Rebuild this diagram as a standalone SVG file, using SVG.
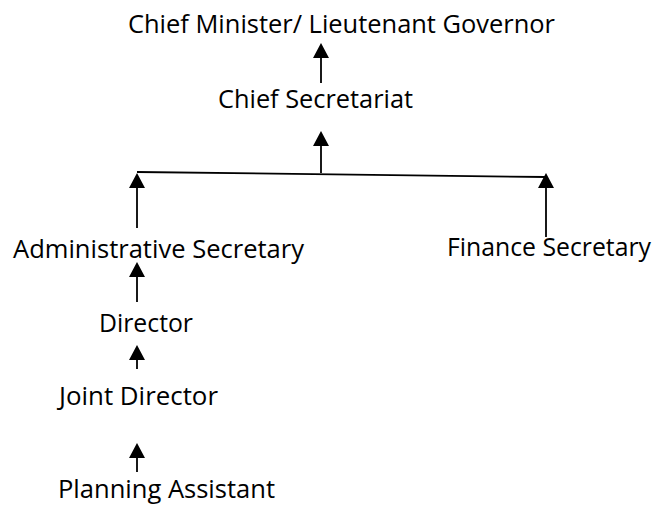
<svg xmlns="http://www.w3.org/2000/svg" width="659" height="506" viewBox="0 0 659 506">
<defs>
<marker id="ah" markerUnits="userSpaceOnUse" markerWidth="16" markerHeight="17" viewBox="0 -8.5 15 17" refX="0" refY="0" orient="auto">
<path d="M0,-8 L15,0 L0,8 Z" fill="#000"/>
</marker>
<style>
text{font-family:"Open Sans","Liberation Sans",sans-serif;font-size:25px;fill:#000}
.c{stroke:#000;stroke-width:1.8;fill:none}
.a{marker-end:url(#ah)}
</style>
</defs>
<rect width="659" height="506" fill="#fff"/>
<g id="connectors">
<line class="c a" x1="321" y1="83" x2="321" y2="58"/>
<line class="c a" x1="321" y1="173" x2="321" y2="146"/>
<line class="c" x1="137" y1="172" x2="546" y2="177"/>
<line class="c a" x1="137" y1="228" x2="137" y2="188"/>
<line class="c a" x1="546" y1="237" x2="546" y2="188"/>
<line class="c a" x1="137" y1="302" x2="137" y2="277"/>
<line class="c a" x1="137" y1="369" x2="137" y2="360"/>
<line class="c a" x1="137" y1="472" x2="137" y2="458"/>
</g>
<g id="chief-minister"><text x="128" y="33" textLength="427" lengthAdjust="spacingAndGlyphs">Chief Minister/ Lieutenant Governor</text></g>
<g id="chief-secretariat"><text x="218" y="108" textLength="195" lengthAdjust="spacingAndGlyphs">Chief Secretariat</text></g>
<g id="administrative-secretary"><text x="13" y="258" textLength="291" lengthAdjust="spacingAndGlyphs">Administrative Secretary</text></g>
<g id="finance-secretary"><text x="447" y="256" textLength="204" lengthAdjust="spacingAndGlyphs">Finance Secretary</text></g>
<g id="director"><text x="99" y="332" textLength="94" lengthAdjust="spacingAndGlyphs">Director</text></g>
<g id="joint-director"><text x="59" y="405" textLength="159" lengthAdjust="spacingAndGlyphs">Joint Director</text></g>
<g id="planning-assistant"><text x="58" y="498" textLength="217" lengthAdjust="spacingAndGlyphs">Planning Assistant</text></g>
</svg>
